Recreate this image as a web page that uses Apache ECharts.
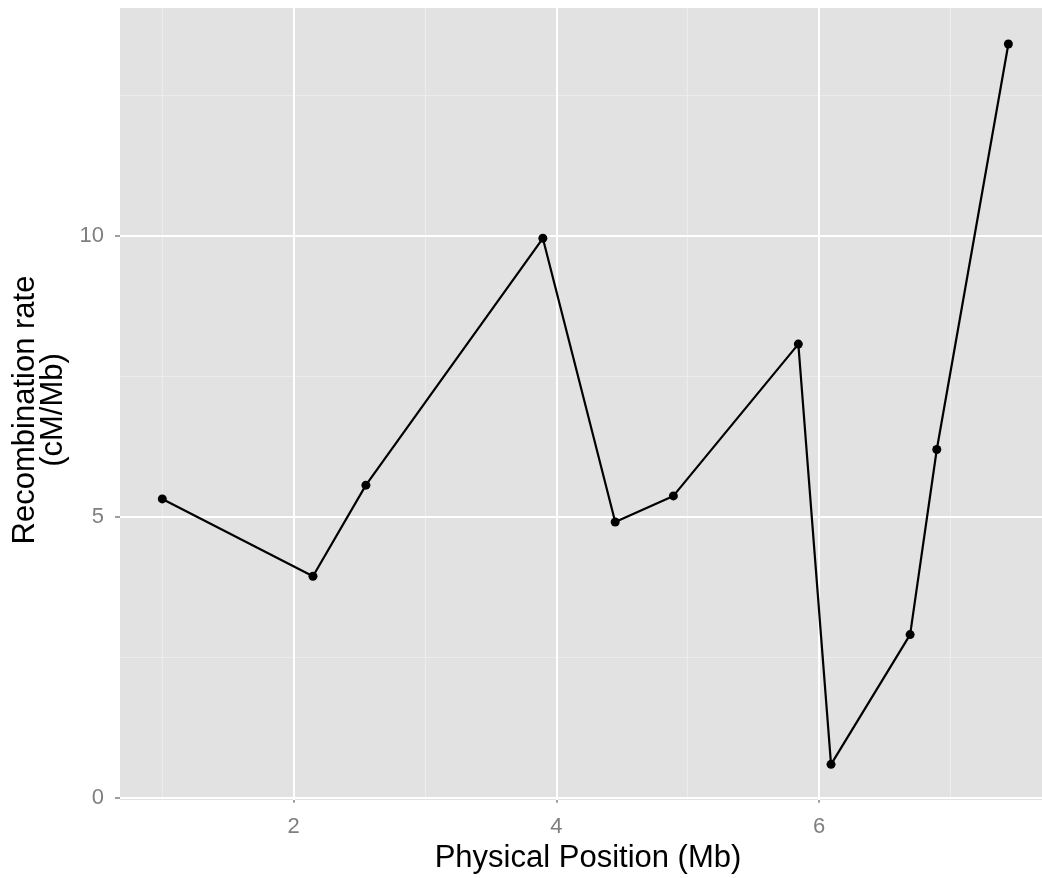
<!DOCTYPE html>
<html>
<head>
<meta charset="utf-8">
<title>Recombination rate</title>
<script src="https://cdn.jsdelivr.net/npm/echarts@6/dist/echarts.min.js"></script>
<style>
  html, body { margin: 0; padding: 0; background: #ffffff; }
  #chart { width: 1042px; height: 878px; }
</style>
</head>
<body>
<div id="chart"></div>
<script>
// Physical position along the chromosome (Mb) and local recombination rate (cM/Mb)
const positions = [1.0, 2.147, 2.550, 3.897, 4.448, 4.891, 5.842, 6.091, 6.693, 6.896, 7.441];
const rates     = [5.32, 3.944, 5.565, 9.96, 4.91, 5.374, 8.076, 0.595, 2.905, 6.20, 13.42];

// Labelled ticks and the in-between minor grid positions
const xTicks      = [2, 4, 6];
const xMinorTicks = [1, 3, 5, 7];
const yTicks      = [0, 5, 10];
const yMinorTicks = [2.5, 7.5, 12.5];

const points = positions.map((p, i) => [p, rates[i]]);

const FONT = '"Liberation Sans", Arial, Helvetica, sans-serif';
const MAJOR = { color: '#ffffff', width: 2, type: 'solid' };
const MINOR = { color: '#ececec', width: 1.2, type: 'solid' };

const gridLines = [].concat(
  xMinorTicks.map(v => ({ xAxis: v, lineStyle: MINOR })),
  yMinorTicks.map(v => ({ yAxis: v, lineStyle: MINOR })),
  xTicks.map(v => ({ xAxis: v, lineStyle: MAJOR })),
  yTicks.map(v => ({ yAxis: v, lineStyle: MAJOR }))
);

const chart = echarts.init(document.getElementById('chart'), null, { renderer: 'canvas' });

chart.setOption({
  animation: false,
  backgroundColor: '#ffffff',
  textStyle: { fontFamily: FONT },
  grid: {
    left: 120, right: 0, top: 8, bottom: 78,
    containLabel: false,
    outerBoundsMode: 'none',
    show: true,
    backgroundColor: '#e2e2e2',
    borderWidth: 0
  },
  xAxis: {
    type: 'value',
    min: 0.678, max: 7.697,
    name: 'Physical Position (Mb)',
    nameLocation: 'middle',
    nameGap: 39,
    nameTextStyle: { color: '#000000', fontSize: 31, fontFamily: FONT, padding: [0, 0, 0, 14] },
    axisLine: { show: false },
    axisTick: { show: true, length: 5, customValues: xTicks, lineStyle: { color: '#7f7f7f', width: 1.5 } },
    axisLabel: { show: true, customValues: xTicks, margin: 16, color: '#7f7f7f', fontSize: 22, fontFamily: FONT },
    splitLine: { show: false },
    minorSplitLine: { show: false }
  },
  yAxis: {
    type: 'value',
    min: -0.04, max: 14.06,
    name: 'Recombination rate\n(cM/Mb)',
    nameLocation: 'middle',
    nameGap: 49,
    nameRotate: 90,
    nameTextStyle: { color: '#000000', fontSize: 31, lineHeight: 28, fontFamily: FONT, align: 'center', padding: [0, 12, 0, 0] },
    axisLine: { show: false },
    axisTick: { show: true, length: 5, customValues: yTicks, lineStyle: { color: '#7f7f7f', width: 1.5 } },
    axisLabel: { show: true, customValues: yTicks, margin: 16, color: '#7f7f7f', fontSize: 22, fontFamily: FONT },
    splitLine: { show: false }
  },
  series: [
    {
      // panel grid drawn beneath the data
      type: 'line',
      data: points,
      symbol: 'none',
      lineStyle: { opacity: 0, width: 0 },
      silent: true,
      z: 1,
      markLine: {
        silent: true,
        symbol: 'none',
        label: { show: false },
        emphasis: { disabled: true },
        animation: false,
        data: gridLines
      }
    },
    {
      type: 'line',
      data: points,
      z: 10,
      symbol: 'circle',
      symbolSize: 9,
      showAllSymbol: true,
      itemStyle: { color: '#000000' },
      lineStyle: { color: '#000000', width: 2.2 },
      emphasis: { disabled: true }
    }
  ]
});
</script>
</body>
</html>
